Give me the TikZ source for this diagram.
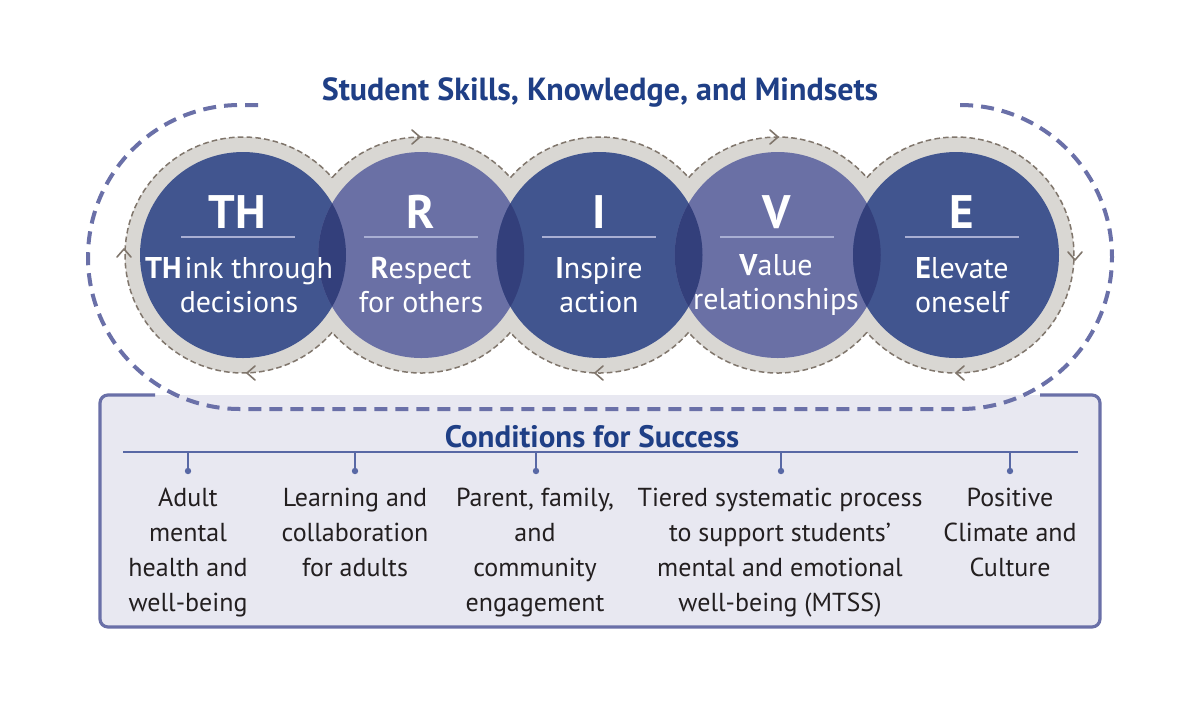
\documentclass[tikz,border=0pt]{standalone}
\usepackage{fontspec}
\setmainfont{PT Sans}
\definecolor{darkc}{HTML}{41558F}
\definecolor{lightc}{HTML}{6A70A5}
\definecolor{overc}{HTML}{333F7B}
\definecolor{ringc}{HTML}{D9D7D3}
\definecolor{ringdash}{HTML}{80766C}
\definecolor{titlec}{HTML}{1F3F86}
\definecolor{loopc}{HTML}{6A70A8}
\definecolor{boxfill}{HTML}{E8E8F1}
\definecolor{sepc}{HTML}{A9AFD3}
\definecolor{rulec}{HTML}{5868A5}
\definecolor{textc}{HTML}{231F20}
\begin{document}
\begin{tikzpicture}[x=0.5pt,y=-0.5pt,
  ringline/.style={draw=ringdash,line width=0.75pt,dash pattern=on 2.8pt off 1.6pt},
  chev/.style={draw=ringdash,line width=0.8pt,line cap=round,line join=round},
  loopline/.style={draw=loopc,line width=2pt,dash pattern=on 6.5pt off 4pt},
  boxline/.style={draw=loopc,line width=1.6pt,rounded corners=4pt},
  bigl/.style={text=white,font=\fontsize{23.5}{26}\selectfont\bfseries,anchor=center},
  subt/.style={text=white,font=\fontsize{15}{17}\selectfont,align=center,anchor=center},
  sepline/.style={draw=sepc,line width=0.7pt},
  title/.style={text=titlec,font=\fontsize{16}{19}\selectfont\bfseries},
  cond/.style={text=textc,font=\fontsize{13}{17.5}\selectfont,align=center,anchor=north},
  rule/.style={draw=rulec,line width=0.7pt},
  dot/.style={circle,fill=rulec,inner sep=0pt,minimum size=3.2pt}
]
\useasboundingbox (0,0) rectangle (1200,720);
\fill[white] (0,0) rectangle (1200,720);

% bottom box
\fill[boxfill,rounded corners=4pt] (100,395) rectangle (1100,627);
\draw[boxline] (155,395) -- (100,395) -- (100,627) -- (1100,627) -- (1100,395) -- (1040,395);

% outer dashed loop
\draw[loopline] (258,105) -- (240,105) arc[start angle=270,end angle=90,radius=152]
  -- (960,409) arc[start angle=90,end angle=-90,radius=152] -- (963,105);

% title
\node[title] (ttl) at (600,92) {Student Skills, Knowledge, and Mindsets};

% circle centres
\coordinate (c1) at (243,255);
\coordinate (c2) at (421.25,255);
\coordinate (c3) at (599.5,255);
\coordinate (c4) at (777.75,255);
\coordinate (c5) at (956,255);

% gray rings
\foreach \c in {c1,c2,c3,c4,c5} \fill[ringc] (\c) circle[radius=118];

% dashed outlines
\draw[ringline] (c1) ++(41:118) arc[start angle=41,end angle=319,radius=118];
\foreach \c in {c2,c3,c4}{
  \draw[ringline] (\c) ++(41:118) arc[start angle=41,end angle=139,radius=118];
  \draw[ringline] (\c) ++(221:118) arc[start angle=221,end angle=319,radius=118];
}
\draw[ringline] (c5) ++(221:118) arc[start angle=221,end angle=499,radius=118];

% chevrons on the dashed outlines
\path[chev] (117,257) -- (124,249) -- (131,257);
\path[chev] (255,366) -- (247,373) -- (255,380);
\path[chev] (412,130) -- (420,137) -- (412,144);
\path[chev] (603,366) -- (595,373) -- (603,380);
\path[chev] (770,130) -- (778,137) -- (770,144);
\path[chev] (964,366) -- (956,373) -- (964,380);
\path[chev] (1068,252) -- (1075,260) -- (1082,252);

% inner discs
\fill[darkc] (c1) circle[radius=103];
\fill[lightc] (c2) circle[radius=103];
\fill[darkc] (c3) circle[radius=103];
\fill[lightc] (c4) circle[radius=103];
\fill[darkc] (c5) circle[radius=103];
\foreach \a/\b in {c1/c2,c2/c3,c3/c4,c4/c5}{
  \begin{scope}
    \clip (\a) circle[radius=103];
    \fill[overc] (\b) circle[radius=103];
  \end{scope}
}

% circle texts
\node[bigl] (L1) at (237,212) {TH};
\node[bigl] (L2) at (421,212) {R};
\node[bigl] (L3) at (599,212) {I};
\node[bigl] (L4) at (777,212) {V};
\node[bigl] (L5) at (962,212) {E};
\foreach \x in {238,421,599,777,962}
  \draw[sepline] (\x-57,237) -- (\x+57,237);
\node[subt] (S1) at (239,285) {\textbf{TH}\kern1.5pt ink through\\decisions};
\node[subt] (S2) at (421,285) {\textbf{R}espect\\for others};
\node[subt] (S3) at (599,285) {\textbf{I}nspire\\action};
\node[subt] (S4) at (776,285) {\textbf{V}alue\\relationships};
\node[subt] (S5) at (962,285) {\textbf{E}levate\\oneself};

% conditions
\node[title,font=\fontsize{15.5}{18}\selectfont\bfseries] (cfs) at (592,437) {Conditions for Success};
\coordinate (rl) at (123,452);
\coordinate (rr) at (1078,452);
\draw[rule] (rl) -- (rr);
\foreach \n/\x in {1/188,2/355,3/536,4/781,5/1010}{
  \node[dot] (d\n) at (\x,471) {};
  \draw[rule] (\x,452) -- (d\n.center);
}
\node[cond] (t1) at (188,481) {Adult\\mental\\health and\\well-being};
\node[cond] (t2) at (355,481) {Learning and\\collaboration\\for adults};
\node[cond] (t3) at (535,481) {Parent, family,\\and\\community\\engagement};
\node[cond] (t4) at (780,481) {Tiered systematic process\\to support students’\\mental and emotional\\well-being (MTSS)};
\node[cond] (t5) at (1010,481) {Positive\\Climate and\\Culture};
\end{tikzpicture}
\end{document}
